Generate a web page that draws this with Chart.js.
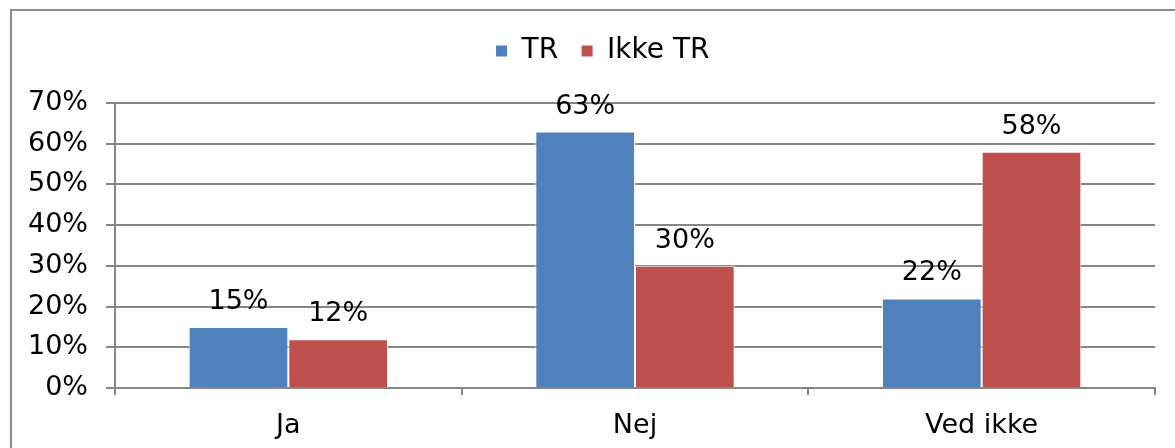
<!DOCTYPE html>
<html lang="da">
<head>
  <meta charset="UTF-8" />
  <title>TR / Ikke TR</title>
  <script src="https://cdn.jsdelivr.net/npm/chart.js"></script>
  <style>
    html, body {
      margin: 0;
      padding: 0;
      background: #ffffff;
      overflow: hidden;
    }
    .frame {
      position: absolute;
      left: 10px;
      top: 9px;
      width: 2000px;
      height: 1000px;
      border: 2px solid #8c8c8c;
    }
    #chart {
      position: absolute;
      left: 0;
      top: 0;
    }
  </style>
</head>
<body>
  <div class="frame"></div>
  <canvas id="chart" width="1175" height="448"></canvas>

  <script>
    // data
    const categories = ['Ja', 'Nej', 'Ved ikke'];
    const trValues = [15, 63, 22];
    const ikkeTrValues = [12, 30, 58];
    const seriesNames = ['TR', 'Ikke TR'];
    const yTicks = [0, 10, 20, 30, 40, 50, 60, 70];

    Chart.defaults.font.family = "'DejaVu Sans', Verdana, sans-serif";
    Chart.defaults.font.size = 27;
    Chart.defaults.color = '#000000';

    // push the plot area down under the legend, nudge legend right a bit
    const legendSpace = {
      id: 'legendSpace',
      beforeInit(chart) {
        const fit = chart.legend.fit;
        chart.legend.fit = function () {
          fit.bind(chart.legend)();
          this.height = 89;
        };
      },
      afterLayout(chart) {
        chart.legend.left += 25;
        chart.legend.right += 25;
      }
    };

    // value labels above each bar
    const barLabels = {
      id: 'barLabels',
      afterDatasetsDraw(chart) {
        const ctx = chart.ctx;
        ctx.save();
        ctx.font = "27px 'DejaVu Sans', Verdana, sans-serif";
        ctx.fillStyle = '#000000';
        ctx.textAlign = 'center';
        ctx.textBaseline = 'alphabetic';
        chart.data.datasets.forEach((ds, i) => {
          chart.getDatasetMeta(i).data.forEach((bar, j) => {
            ctx.fillText(ds.data[j] + '%', bar.x, bar.y - 18);
          });
        });
        ctx.restore();
      }
    };

    new Chart(document.getElementById('chart'), {
      type: 'bar',
      data: {
        labels: categories,
        datasets: [
          {
            label: seriesNames[0],
            data: trValues,
            backgroundColor: '#4F81BD',
            borderColor: '#ffffff',
            borderWidth: 1,
            barPercentage: 1,
            categoryPercentage: 0.575
          },
          {
            label: seriesNames[1],
            data: ikkeTrValues,
            backgroundColor: '#C0504D',
            borderColor: '#ffffff',
            borderWidth: 1,
            barPercentage: 1,
            categoryPercentage: 0.575
          }
        ]
      },
      options: {
        responsive: false,
        animation: false,
        events: [],
        layout: {
          padding: { top: 14, right: 20, bottom: 0, left: 0 }
        },
        plugins: {
          legend: {
            position: 'top',
            align: 'center',
            labels: {
              boxWidth: 12,
              boxHeight: 12,
              padding: 23,
              color: '#000000',
              font: { size: 28 }
            }
          },
          tooltip: { enabled: false }
        },
        scales: {
          x: {
            offset: true,
            grid: {
              display: true,
              offset: true,
              drawOnChartArea: false,
              drawTicks: true,
              tickLength: 7,
              color: '#868686',
              lineWidth: 2
            },
            border: { display: true, color: '#868686', width: 2 },
            ticks: { padding: 15, font: { size: 27 } },
            afterFit(scale) { scale.height = 60; }
          },
          y: {
            min: 0,
            max: 70,
            afterBuildTicks(scale) {
              scale.ticks = yTicks.map(v => ({ value: v }));
            },
            grid: {
              color: '#868686',
              lineWidth: 2,
              drawTicks: true,
              tickLength: 9
            },
            border: { display: true, color: '#868686', width: 2 },
            ticks: {
              padding: 18,
              font: { size: 27 },
              callback: v => v + '%'
            },
            afterFit(scale) { scale.width = 115; }
          }
        }
      },
      plugins: [legendSpace, barLabels]
    });
  </script>
</body>
</html>
